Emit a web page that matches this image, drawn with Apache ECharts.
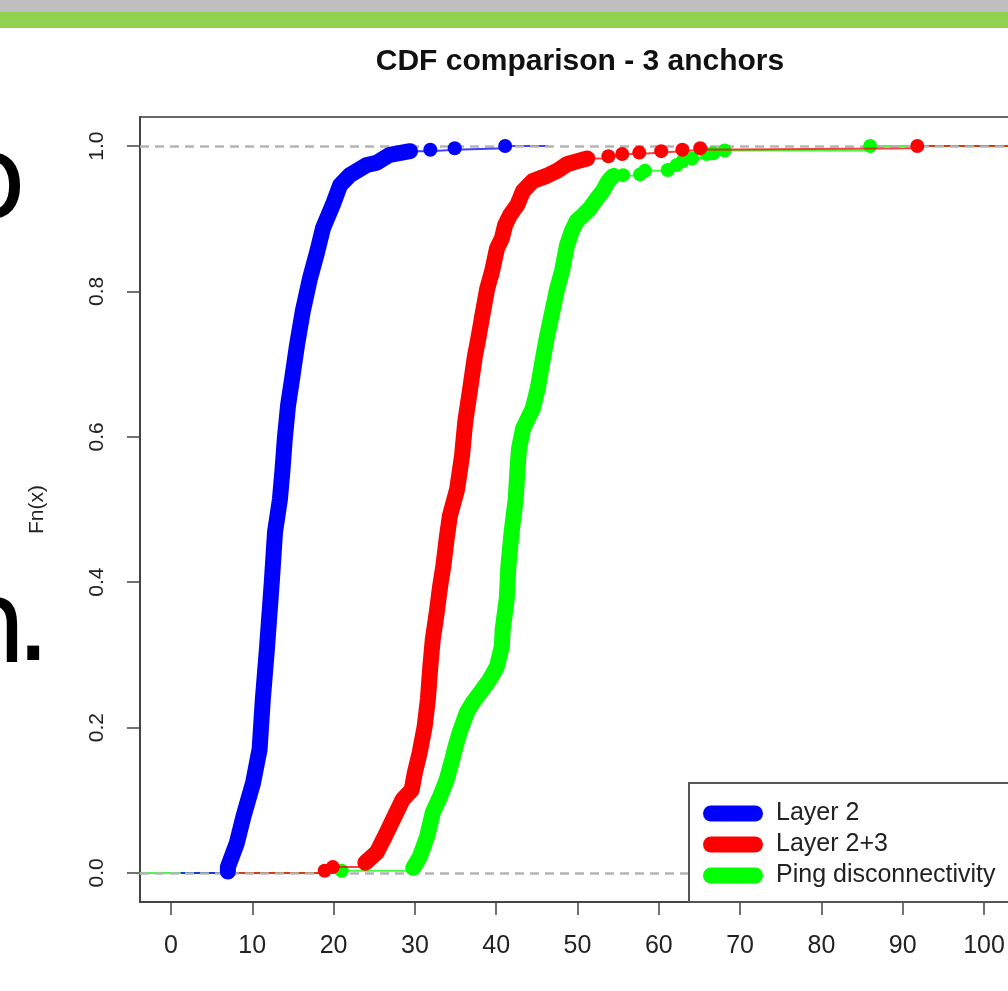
<!DOCTYPE html>
<html><head><meta charset="utf-8">
<script src="https://cdn.jsdelivr.net/npm/echarts@6/dist/echarts.min.js"></script>
<style>html,body{margin:0;padding:0;background:#fff;}#c{width:1008px;height:991px;}</style>
</head><body><div id="c"></div><script>
// ---- data ----
const chartTitle = 'CDF comparison - 3 anchors';
const yName = 'Fn(x)';
const seriesNames = ['Layer 2', 'Layer 2+3', 'Ping disconnectivity'];
const xTicks = [0, 10, 20, 30, 40, 50, 60, 70, 80, 90, 100];
const yTicks = [0, 0.2, 0.4, 0.6, 0.8, 1.0];

// Layer 2 (blue)
const layer2Head = [];
const layer2Band = [[7.0,0.002],[7.0,0.008],[8.1,0.041],[8.9,0.077],[10.1,0.124],[10.9,0.170],[11.3,0.239],[11.8,0.308],[12.4,0.400],[12.8,0.469],[13.4,0.514],[13.7,0.552],[14.0,0.597],[14.4,0.643],[14.9,0.680],[15.5,0.726],[16.2,0.772],[17.1,0.818],[18.0,0.855],[18.7,0.887],[19.9,0.919],[20.8,0.946],[22.0,0.960],[24.1,0.974],[25.3,0.977],[26.9,0.988],[29.4,0.993]];
const layer2Tail = [[31.9,0.995],[34.9,0.997],[41.1,1.0]];
const layer2Span = [1.2, 46.4];

// Layer 2+3 (red)
const layer23Head = [[18.9,0.003],[19.9,0.008]];
const layer23Band = [[23.9,0.014],[25.3,0.028],[26.3,0.050],[27.3,0.073],[28.5,0.101],[29.6,0.114],[30.0,0.138],[30.6,0.166],[31.2,0.201],[31.6,0.239],[31.9,0.284],[32.2,0.321],[32.7,0.359],[33.1,0.394],[33.5,0.422],[33.9,0.459],[34.3,0.491],[35.2,0.528],[35.8,0.574],[36.2,0.621],[36.8,0.666],[37.4,0.712],[37.8,0.735],[38.3,0.767],[38.9,0.804],[39.5,0.828],[40.1,0.859],[40.7,0.873],[41.1,0.891],[41.7,0.905],[42.6,0.919],[43.3,0.938],[44.5,0.952],[46.2,0.959],[47.5,0.966],[48.7,0.975],[49.9,0.979],[51.2,0.983]];
const layer23Tail = [[53.8,0.986],[55.5,0.989],[57.6,0.991],[60.3,0.993],[62.9,0.995],[65.1,0.997],[91.8,1.0]];
const layer23Span = [7.0, 110];

// Ping disconnectivity (green)
const pingHead = [[21.0,0.003]];
const pingBand = [[29.8,0.007],[30.6,0.022],[31.5,0.050],[32.2,0.083],[33.1,0.105],[33.9,0.128],[34.6,0.156],[35.0,0.174],[35.5,0.193],[36.4,0.221],[37.1,0.234],[38.3,0.252],[39.2,0.266],[40.1,0.284],[40.7,0.312],[40.8,0.335],[41.3,0.377],[41.5,0.422],[41.9,0.469],[42.4,0.514],[42.6,0.552],[42.8,0.583],[43.3,0.611],[44.5,0.639],[45.1,0.666],[45.6,0.698],[46.2,0.735],[46.9,0.772],[47.5,0.804],[48.1,0.828],[48.7,0.863],[49.3,0.883],[49.9,0.897],[50.7,0.905],[51.5,0.914],[52.4,0.928],[53.1,0.938],[53.8,0.952],[54.4,0.959]];
const pingTail = [[55.6,0.960],[57.7,0.961],[58.3,0.966],[61.1,0.967],[62.2,0.974],[62.9,0.979],[64.1,0.983],[65.9,0.989],[66.7,0.990],[68.1,0.994],[86.0,1.0]];
const pingSpan = [-5, 110];

// ---- build ----
const groups = [
  {name: seriesNames[2], color: '#00ff00', head: pingHead, band: pingBand, tail: pingTail, span: pingSpan, zb: 1, zf: 5},
  {name: seriesNames[1], color: '#ff0000', head: layer23Head, band: layer23Band, tail: layer23Tail, span: layer23Span, zb: 2, zf: 6},
  {name: seriesNames[0], color: '#0000ff', head: layer2Head, band: layer2Band, tail: layer2Tail, span: layer2Span, zb: 3, zf: 7}
];
const FONT = '"Liberation Sans", Arial, sans-serif';
const series = [];
groups.forEach(g => {
  const first = g.head.length ? g.head[0] : g.band[0];
  const lastBand = g.band[g.band.length - 1];
  const lastTail = g.tail[g.tail.length - 1];
  const thin = {color: g.color, width: 2, opacity: 0.75};
  series.push({name: g.name, type: 'line', color: g.color, z: g.zb, symbol: 'none', silent: true,
    lineStyle: thin, data: [[g.span[0], 0], [first[0], 0]]});
  series.push({name: g.name, type: 'line', color: g.color, z: g.zb, symbol: 'none', silent: true,
    lineStyle: thin, data: [[lastTail[0], 1], [g.span[1], 1]]});
  if (g.head.length) {
    series.push({name: g.name, type: 'line', color: g.color, z: g.zf, step: 'end', symbol: 'circle', symbolSize: 14,
      showAllSymbol: true, silent: true, lineStyle: thin, itemStyle: {color: g.color},
      data: g.head.concat([g.band[0]])});
  }
  series.push({name: g.name, type: 'line', color: g.color, z: g.zf, symbol: 'none', silent: true,
    lineStyle: {color: g.color, width: 16, cap: 'round', join: 'round'}, data: g.band});
  series.push({name: g.name, type: 'line', color: g.color, z: g.zf, step: 'end', symbol: 'circle', symbolSize: 14,
    showAllSymbol: true, silent: true, lineStyle: thin, itemStyle: {color: g.color},
    data: [lastBand].concat(g.tail)});
});
series.push({type: 'line', data: [], z: 4, silent: true,
  markLine: {symbol: 'none', silent: true, label: {show: false}, animation: false,
    lineStyle: {color: '#b4b4b4', type: [9, 6], width: 2.5},
    data: [{yAxis: 0}, {yAxis: 1}]}});

const chart = echarts.init(document.getElementById('c'), null, {renderer: 'canvas'});
chart.setOption({
  animation: false,
  backgroundColor: '#ffffff',
  title: {text: chartTitle, left: 575, top: 42, textAlign: 'center',
    textStyle: {fontFamily: FONT, fontSize: 30, fontWeight: 'bold', color: '#111'}},
  grid: {left: 140, right: -2, top: 117, bottom: 89, show: true, borderColor: '#666', borderWidth: 2,
    backgroundColor: 'transparent', outerBoundsMode: 'none'},
  xAxis: {type: 'value', min: -3.81, max: 103.2,
    axisLine: {show: true, onZero: false, lineStyle: {color: '#444', width: 2}},
    axisTick: {show: true, customValues: xTicks, length: 13, lineStyle: {color: '#444', width: 1.5}},
    axisLabel: {customValues: xTicks, fontFamily: FONT, fontSize: 25, color: '#222', margin: 32},
    splitLine: {show: false}},
  yAxis: {type: 'value', min: -0.04, max: 1.04,
    name: yName, nameLocation: 'middle', nameGap: 92, nameRotate: 90,
    nameTextStyle: {fontFamily: FONT, fontSize: 21, color: '#222'},
    axisLine: {show: true, onZero: false, lineStyle: {color: '#444', width: 2}},
    axisTick: {show: true, customValues: yTicks, length: 13, lineStyle: {color: '#444', width: 1.5}},
    axisLabel: {customValues: yTicks, rotate: 90, fontFamily: FONT, fontSize: 21, color: '#222', margin: 32,
      formatter: v => v.toFixed(1)},
    splitLine: {show: false}},
  legend: {show: true, z: 30, orient: 'vertical', left: 689, top: 783, data: seriesNames, selectedMode: false,
    itemWidth: 60, itemHeight: 16, itemGap: 6, padding: [18, 40, 14, 14],
    borderColor: '#555', borderWidth: 2, backgroundColor: '#fff', borderRadius: 0,
    icon: 'path://M8,0L52,0A8,8,0,0,1,52,16L8,16A8,8,0,0,1,8,0Z',
    itemStyle: {borderWidth: 0},
    textStyle: {fontFamily: FONT, fontSize: 25, lineHeight: 24, color: '#222', padding: [0, 0, 0, 8]}},
  graphic: [
    {type: 'rect', z: 100, shape: {x: 0, y: 0, width: 1008, height: 12}, style: {fill: '#bfbfbf'}},
    {type: 'rect', z: 100, shape: {x: 0, y: 12, width: 1008, height: 16}, style: {fill: '#92d050'}},
    {type: 'text', z: 100, x: -44, y: 187, style: {text: 'o', font: '115px "DejaVu Sans"', fill: '#000', verticalAlign: 'middle'}},
    {type: 'text', z: 100, x: -46, y: 632, style: {text: 'n', font: '115px "DejaVu Sans"', fill: '#000', verticalAlign: 'middle'}},
    {type: 'text', z: 100, x: 15, y: 630, style: {text: '.', font: '115px "DejaVu Sans"', fill: '#000', verticalAlign: 'middle'}}
  ],
  series: series
});
</script></body></html>
